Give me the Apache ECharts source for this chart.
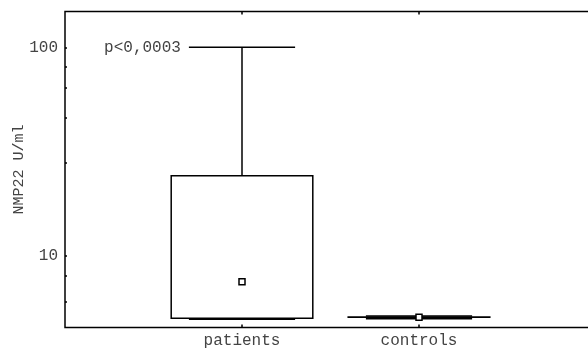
<!DOCTYPE html>
<html><head><meta charset="utf-8">
<script src="https://cdn.jsdelivr.net/npm/echarts@6/dist/echarts.min.js"></script>
<style>html,body{margin:0;padding:0;background:#fff}#c{width:588px;height:349px}</style>
</head><body><div id="c"></div>
<script>
// ---- data ----
const categories = ['patients', 'controls'];
const minValues = [4.95, 4.98];
const q1Values = [5.01, 5.06];
const medianValues = [7.5, 5.06];
const q3Values = [24.2, 5.08];
const maxValues = [100, 5.13];
const yLabelValues = [10, 100];
const yTickValues = [6, 8, 10, 28, 46, 64, 81, 100];
const annotationText = 'p<0,0003';
const yAxisTitle = 'NMP22 U/ml';

// ---- chart ----
const FONT = 'Liberation Mono, Courier New, monospace';
const TEXT_COLOR = '#444';
const chart = echarts.init(document.getElementById('c'), null, {renderer: 'canvas'});

const seriesData = categories.map((c, i) => [i + 1, minValues[i], q1Values[i], medianValues[i], q3Values[i], maxValues[i]]);

const lineStyle = {stroke: '#000', lineWidth: 1.5};

function renderItem(params, api) {
  const x = api.value(0);
  const pt = v => api.coord([x, v]);
  const pMin = pt(api.value(1)), pQ1 = pt(api.value(2)), pMed = pt(api.value(3));
  const pQ3 = pt(api.value(4)), pMax = pt(api.value(5));
  const cx = pMed[0];
  const boxHalf = (api.coord([x + 0.4, api.value(3)])[0] - api.coord([x - 0.4, api.value(3)])[0]) / 2;
  const capHalf = (api.coord([x + 0.3, api.value(3)])[0] - api.coord([x - 0.3, api.value(3)])[0]) / 2;
  const children = [
    {type: 'line', shape: {x1: cx, y1: pMax[1], x2: cx, y2: pQ3[1]}, style: lineStyle},
    {type: 'line', shape: {x1: cx, y1: pQ1[1], x2: cx, y2: pMin[1]}, style: lineStyle},
    {type: 'line', shape: {x1: cx - capHalf, y1: pMax[1], x2: cx + capHalf, y2: pMax[1]}, style: lineStyle},
    {type: 'line', shape: {x1: cx - capHalf, y1: pMin[1], x2: cx + capHalf, y2: pMin[1]}, style: lineStyle},
    {type: 'rect', shape: {x: cx - boxHalf, y: pQ3[1], width: boxHalf * 2, height: pQ1[1] - pQ3[1]},
      style: {fill: 'none', stroke: '#000', lineWidth: 1.5}},
    {type: 'rect', shape: {x: cx - 3, y: pMed[1] - 3, width: 6, height: 6},
      style: {fill: '#fff', stroke: '#000', lineWidth: 1.5}}
  ];
  if (params.dataIndex === 0) {
    children.push({type: 'text', x: cx - capHalf - 8, y: pMax[1],
      style: {text: annotationText, align: 'right', verticalAlign: 'middle',
        font: '16px ' + FONT, fill: TEXT_COLOR}});
  }
  return {type: 'group', children};
}

const xCommon = {
  type: 'value', min: 0, max: 3,
  splitLine: {show: false},
  axisLine: {show: false}
};

chart.setOption({
  animation: false,
  backgroundColor: '#fff',
  grid: {left: 65, top: 11.5, width: 531, height: 316, show: true, outerBoundsMode: 'none', containLabel: false,
    borderColor: '#000', borderWidth: 1.5, backgroundColor: 'transparent'},
  xAxis: [
    Object.assign({}, xCommon, {
      position: 'bottom',
      axisTick: {show: true, inside: true, length: 3, customValues: [1, 2], lineStyle: {color: '#000', width: 1.5}},
      axisLabel: {customValues: [1, 2], formatter: v => categories[Math.round(v) - 1] || '',
        margin: 5, fontFamily: FONT, fontSize: 16, color: TEXT_COLOR}
    }),
    Object.assign({}, xCommon, {
      position: 'top',
      axisTick: {show: true, inside: true, length: 3, customValues: [1, 2], lineStyle: {color: '#000', width: 1.5}},
      axisLabel: {show: false}
    })
  ],
  yAxis: {
    type: 'log', logBase: 10, min: 4.52, max: 148.6,
    splitLine: {show: false},
    axisLine: {show: false},
    axisTick: {show: true, inside: true, length: 2, customValues: yTickValues, lineStyle: {color: '#000', width: 1.5}},
    axisLabel: {customValues: yLabelValues, margin: 7, fontFamily: FONT, fontSize: 16, color: TEXT_COLOR},
    name: yAxisTitle, nameLocation: 'middle', nameRotate: 90, nameGap: 38, nameMoveOverlap: false,
    nameTextStyle: {fontFamily: FONT, fontSize: 15, color: TEXT_COLOR}
  },
  series: [{
    type: 'custom', xAxisIndex: 0, yAxisIndex: 0,
    renderItem: renderItem,
    encode: {x: 0, y: [1, 2, 3, 4, 5]},
    clip: false,
    data: seriesData
  }]
});
</script></body></html>
